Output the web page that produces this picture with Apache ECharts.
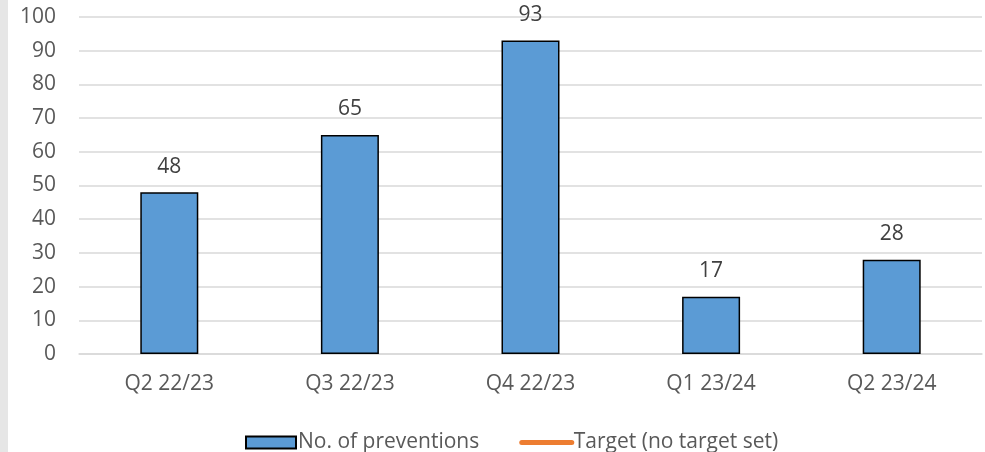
<!DOCTYPE html>
<html>
<head>
<meta charset="utf-8">
<script src="https://cdn.jsdelivr.net/npm/echarts@6/dist/echarts.min.js"></script>
<style>
  html, body { margin: 0; padding: 0; background: #fff; }
  #chart { width: 985px; height: 452px; }
</style>
</head>
<body>
<div id="chart"></div>
<script>
/* Quarterly preventions bar chart, target line has no data. */
const quarters = ['Q2 22/23', 'Q3 22/23', 'Q4 22/23', 'Q1 23/24', 'Q2 23/24'];
const preventions = [48, 65, 93, 17, 28];
const target = [null, null, null, null, null];

const FONT = '"Open Sans", "Noto Sans", sans-serif';
const chart = echarts.init(document.getElementById('chart'));

chart.setOption({
  animation: false,
  textStyle: { fontFamily: FONT },
  graphic: [
    { type: 'rect', left: 0, top: 0, shape: { width: 8, height: 452 },
      style: { fill: '#e6e6e6' }, silent: true },
  ],
  grid: { left: 79, right: 3, top: 17, bottom: 98 },
  legend: {
    left: 240, top: 427,
    itemWidth: 50, itemHeight: 12, itemGap: 40,
    textStyle: { fontFamily: FONT, fontSize: 21, color: '#595959', padding: [0, 0, 0, -3] },
    data: [
      { name: 'No. of preventions', icon: 'rect' },
      { name: 'Target (no target set)',
        itemStyle: { opacity: 0 },
        lineStyle: { width: 5, cap: 'round', color: '#ed7d31' } },
    ],
  },
  xAxis: {
    type: 'category', data: quarters,
    axisTick: { show: false },
    axisLine: { lineStyle: { color: '#d9d9d9', width: 1.5 } },
    axisLabel: { color: '#595959', fontSize: 21, margin: 20, fontFamily: FONT },
  },
  yAxis: {
    type: 'value', min: 0, max: 100, interval: 10,
    axisLine: { show: false }, axisTick: { show: false },
    axisLabel: { color: '#595959', fontSize: 21, margin: 23, fontFamily: FONT },
    splitLine: { lineStyle: { color: '#d9d9d9', width: 1.5 } },
  },
  series: [
    {
      name: 'No. of preventions', type: 'bar', data: preventions,
      barWidth: 58,
      itemStyle: { color: '#5b9bd5', borderColor: '#000', borderWidth: 1.5 },
      label: { show: true, position: 'top', distance: 15, color: '#404040', fontSize: 21, fontFamily: FONT },
    },
    {
      name: 'Target (no target set)', type: 'line', data: target,
      symbol: 'none', showSymbol: false, color: '#ed7d31',
      lineStyle: { color: '#ed7d31', width: 5, cap: 'round' },
    },
  ],
});
</script>
</body>
</html>
